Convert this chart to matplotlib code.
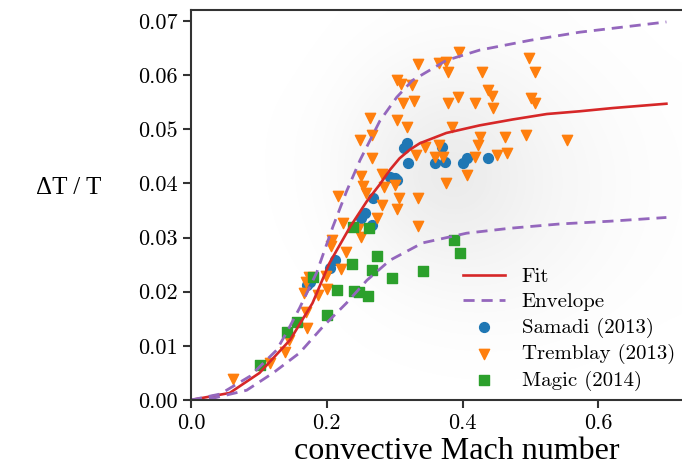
"""
Convective Mach number vs temperature contrast, with fit and envelope
"""
import matplotlib
matplotlib.use('Agg')
import matplotlib.pyplot as plt
import numpy as np

BLUE   = '#1f77b4'
ORANGE = '#ff7f0e'
GREEN  = '#2ca02c'
RED    = '#d62728'
PURPLE = '#9467bd'

plt.rcParams.update({
    'font.family': 'cmr10',
    'axes.formatter.use_mathtext': True,
    'axes.edgecolor': '#333333',
    'axes.linewidth': 1.5,
    'xtick.color': '#333333', 'ytick.color': '#333333',
    'xtick.labelcolor': 'black', 'ytick.labelcolor': 'black',
})

# ---- curves ----
fit_x = [0.0, 0.057, 0.101, 0.146, 0.179, 0.204, 0.234, 0.259, 0.278, 0.293,
         0.307, 0.322, 0.337, 0.376, 0.425, 0.474, 0.524, 0.572, 0.621, 0.700]
fit_y = [0.0, 0.0013, 0.0050, 0.0111, 0.0179, 0.0253, 0.0319, 0.0367, 0.0398, 0.0425,
         0.0446, 0.0462, 0.0474, 0.0493, 0.0507, 0.0518, 0.0528, 0.0533, 0.0539, 0.0547]

env_hi_x = [0.0, 0.043, 0.087, 0.126, 0.141, 0.160, 0.185, 0.209, 0.229, 0.249,
            0.278, 0.303, 0.326, 0.376, 0.425, 0.499, 0.572, 0.700]
env_hi_y = [0.0, 0.0011, 0.0044, 0.0092, 0.0125, 0.0170, 0.0235, 0.0320, 0.0385, 0.0443,
            0.0515, 0.0559, 0.0590, 0.0627, 0.0646, 0.0664, 0.0679, 0.0698]

env_lo_x = [0.0, 0.035, 0.082, 0.121, 0.160, 0.194, 0.229, 0.259, 0.293, 0.341,
            0.406, 0.469, 0.543, 0.616, 0.700]
env_lo_y = [0.0, 0.0004, 0.0018, 0.0050, 0.0087, 0.0135, 0.0179, 0.0221, 0.0258, 0.0290,
            0.0308, 0.0317, 0.0325, 0.0330, 0.0337]

# ---- Samadi (2013) ----
samadi_x = [0.171, 0.175, 0.204, 0.212, 0.251, 0.256, 0.266, 0.268, 0.293, 0.300,
            0.304, 0.313, 0.318, 0.319, 0.359, 0.369, 0.374, 0.400, 0.407, 0.437]
samadi_y = [0.0212, 0.0218, 0.0244, 0.0258, 0.0336, 0.0345, 0.0323, 0.0373, 0.0411, 0.0410,
            0.0406, 0.0465, 0.0474, 0.0437, 0.0437, 0.0467, 0.0439, 0.0437, 0.0446, 0.0446]

# ---- Tremblay (2013) ----
tremblay_x = [0.062, 0.116, 0.138, 0.144, 0.171, 0.169, 0.187, 0.166, 0.169, 0.199,
              0.201, 0.174, 0.207, 0.206, 0.221, 0.229, 0.216, 0.224, 0.251, 0.274,
              0.251, 0.254, 0.257, 0.284, 0.300, 0.307, 0.303, 0.334, 0.334, 0.282,
              0.281, 0.246, 0.249, 0.266, 0.266, 0.263, 0.303, 0.318, 0.304, 0.309,
              0.312, 0.329, 0.326, 0.334, 0.365, 0.376, 0.378, 0.394, 0.428, 0.497,
              0.506, 0.437, 0.443, 0.444, 0.418, 0.393, 0.378, 0.501, 0.506, 0.384,
              0.425, 0.422, 0.462, 0.494, 0.554, 0.365, 0.344, 0.359, 0.371, 0.418,
              0.451, 0.466, 0.331, 0.407, 0.376]
tremblay_y = [0.0039, 0.0068, 0.0089, 0.0111, 0.0133, 0.0162, 0.0194, 0.0197, 0.0218, 0.0229,
              0.0205, 0.0227, 0.0295, 0.0284, 0.0242, 0.0273, 0.0376, 0.0327, 0.0301, 0.0336,
              0.0413, 0.0395, 0.0382, 0.0393, 0.0397, 0.0373, 0.0352, 0.0373, 0.0321, 0.0417,
              0.0360, 0.0315, 0.0480, 0.0489, 0.0446, 0.0520, 0.0517, 0.0504, 0.0590, 0.0583,
              0.0548, 0.0552, 0.0581, 0.0620, 0.0622, 0.0624, 0.0605, 0.0642, 0.0605, 0.0631,
              0.0605, 0.0572, 0.0561, 0.0539, 0.0548, 0.0559, 0.0548, 0.0557, 0.0548, 0.0504,
              0.0485, 0.0470, 0.0485, 0.0489, 0.0480, 0.0470, 0.0467, 0.0448, 0.0448, 0.0448,
              0.0452, 0.0456, 0.0452, 0.0415, 0.0400]

# ---- Magic (2014) ----
magic_x = [0.101, 0.141, 0.156, 0.179, 0.201, 0.215, 0.237, 0.238, 0.262, 0.240,
           0.247, 0.260, 0.266, 0.274, 0.296, 0.341, 0.388, 0.396]
magic_y = [0.0065, 0.0125, 0.0144, 0.0227, 0.0157, 0.0203, 0.0251, 0.0319, 0.0317, 0.0201,
           0.0199, 0.0192, 0.0240, 0.0266, 0.0225, 0.0238, 0.0295, 0.0271]

# ---- faint background cloud: rough relative density on a coarse grid ----
cloud_xc = [0.0, 0.1, 0.2, 0.3, 0.4, 0.5, 0.6, 0.7]
cloud_yc = [0.0, 0.01, 0.02, 0.03, 0.04, 0.05, 0.06, 0.07]
cloud_density = [
    [0, 0, 0,    0,    0,    0,    0,    0],
    [0, 0, 0,    0.02, 0.05, 0.05, 0.02, 0],
    [0, 0, 0,    0.15, 0.30, 0.25, 0.10, 0.03],
    [0, 0, 0.05, 0.50, 0.70, 0.45, 0.20, 0.05],
    [0, 0, 0.10, 0.75, 1.00, 0.55, 0.25, 0.05],
    [0, 0, 0.10, 0.60, 0.85, 0.45, 0.20, 0.05],
    [0, 0, 0.02, 0.30, 0.45, 0.25, 0.10, 0.02],
    [0, 0, 0,    0.05, 0.10, 0.08, 0.03, 0],
]

fig = plt.figure(figsize=(6.82, 4.68), dpi=100)
ax = fig.add_axes([0.280, 0.1453, 0.727, 0.8333])

dx = cloud_xc[1] - cloud_xc[0]
dy = cloud_yc[1] - cloud_yc[0]
ax.imshow(np.array(cloud_density), origin='lower', cmap='Greys', vmin=0, vmax=5.5,
          interpolation='bicubic', aspect='auto', zorder=0,
          extent=(cloud_xc[0] - dx/2, cloud_xc[-1] + dx/2,
                  cloud_yc[0] - dy/2, cloud_yc[-1] + dy/2))

ax.plot(fit_x, fit_y, color=RED, lw=1.9, label='Fit')
ax.plot(env_hi_x, env_hi_y, color=PURPLE, lw=2, dashes=(4, 2.5), label='Envelope')
ax.plot(env_lo_x, env_lo_y, color=PURPLE, lw=2, dashes=(4, 2.5))
ax.scatter(samadi_x, samadi_y, s=50, marker='o', color=BLUE, label='Samadi (2013)')
ax.scatter(tremblay_x, tremblay_y, s=55, marker='v', color=ORANGE, label='Tremblay (2013)')
ax.scatter(magic_x, magic_y, s=46, marker='s', color=GREEN, label='Magic (2014)')

ax.set_xlim(0, 0.73)
ax.set_ylim(0, 0.072)
ax.set_xticks([0.0, 0.2, 0.4, 0.6])
ax.set_yticks([0.00, 0.01, 0.02, 0.03, 0.04, 0.05, 0.06, 0.07])
ax.xaxis.set_major_formatter(matplotlib.ticker.FormatStrFormatter('%.1f'))
ax.yaxis.set_major_formatter(matplotlib.ticker.FormatStrFormatter('%.2f'))
ax.tick_params(labelsize=16, length=6, width=1.5, direction='out')
ax.spines['right'].set_visible(False)

fig.text(0.100, 0.598, r'ΔT / T', fontsize=18, family='Liberation Serif',
         ha='center', va='center')
fig.text(0.670, 0.036, 'convective Mach number', fontsize=23, family='Liberation Serif',
         ha='center', va='center')

ax.legend(loc='lower right', bbox_to_anchor=(675/682, 77/468), bbox_transform=fig.transFigure,
          frameon=False, fontsize=15, borderaxespad=0, borderpad=0, labelspacing=0.31,
          handlelength=2.0, handletextpad=0.8, scatterpoints=1)

fig.savefig('out.png', dpi=100)
plt.close()
print('Saved: out.png')
